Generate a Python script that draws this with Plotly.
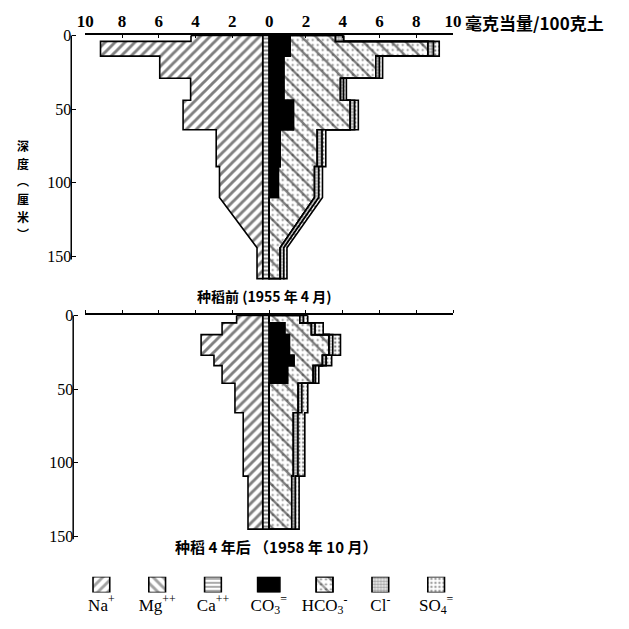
import plotly.graph_objects as go

# ---------------------------------------------------------------------------
# Soil salt profiles, milli-equivalents per 100 g soil, by depth (cm)
# cations plotted to the left of zero, anions to the right
# ---------------------------------------------------------------------------
ions = ["Na", "Mg", "Ca", "CO3", "HCO3", "Cl", "SO4"]
ion_labels = ["Na<sup>+</sup>", "Mg<sup>++</sup>", "Ca<sup>++</sup>",
              "CO<sub>3</sub><sup>=</sup>", "HCO<sub>3</sub><sup>-</sup>",
              "Cl<sup>-</sup>", "SO<sub>4</sub><sup>=</sup>"]

# Before rice (April 1955); layer 110-144 narrows gradually into the last one
pre_top = [0, 4, 14, 29, 44, 64, 89, 110, 144]
pre_bot = [4, 14, 29, 44, 64, 89, 110, 144, 165]
pre_slant = [0, 0, 0, 0, 0, 0, 0, 1, 0]
pre_na = [3.90, 8.82, 5.60, 3.92, 4.33, 2.53, 2.35, 2.35, 0.31]
pre_mg = [0, 0, 0, 0, 0, 0, 0, 0, 0]
pre_ca = [0.35, 0.35, 0.35, 0.35, 0.35, 0.35, 0.35, 0.35, 0.35]
pre_co3 = [1.14, 1.14, 0.80, 0.80, 1.32, 0.60, 0.50, 0.00, 0.00]
pre_hco3 = [2.47, 7.50, 5.00, 3.08, 3.09, 2.02, 1.97, 2.47, 0.60]
pre_cl = [0.44, 0.30, 0.20, 0.17, 0.24, 0.26, 0.23, 0.23, 0.20]
pre_so4 = [0.00, 0.31, 0.17, 0.15, 0.20, 0.20, 0.20, 0.20, 0.17]

# After four years of rice (October 1958)
post_top = [0, 5, 13, 27, 34, 46, 66, 109]
post_bot = [5, 13, 27, 34, 46, 66, 109, 145]
post_slant = [0, 0, 0, 0, 0, 0, 0, 0]
post_na = [1.42, 2.21, 3.35, 2.65, 2.21, 1.51, 1.06, 0.80]
post_mg = [0, 0, 0, 0, 0, 0, 0, 0]
post_ca = [0.35, 0.35, 0.35, 0.35, 0.35, 0.35, 0.35, 0.35]
post_co3 = [0.00, 0.85, 1.10, 1.35, 1.00, 0.00, 0.00, 0.00]
post_hco3 = [1.67, 1.45, 2.16, 1.55, 1.40, 1.58, 1.32, 1.23]
post_cl = [0.20, 0.20, 0.20, 0.20, 0.12, 0.20, 0.25, 0.20]
post_so4 = [0.23, 0.44, 0.42, 0.30, 0.18, 0.32, 0.37, 0.20]

x_ticks = [-10, -8, -6, -4, -2, 0, 2, 4, 6, 8, 10]
x_ticktext = ["10", "8", "6", "4", "2", "0", "2", "4", "6", "8", "10"]
depth_ticks = [0, 50, 100, 150]

# vertical axis title, one character per line
depth_title = ["深", "度", "︵", "厘", "米", "︶"]
depth_title_y = [143, 161, 179, 197, 215, 233]

# fill styles (hatching) per ion
STYLE = {
    "Na": dict(shape="/", size=7, solidity=0.42),
    "Mg": dict(shape="\\", size=7, solidity=0.42),
    "Ca": dict(shape="-", size=4, solidity=0.45),
    "CO3": None,                                   # solid black
    "HCO3": dict(shape="\\", size=10, solidity=0.24),
    "Cl": dict(shape=".", size=3, solidity=0.6),
    "SO4": dict(shape=".", size=4, solidity=0.3),
}
DOTS = dict(shape=".", size=5, solidity=0.14)      # extra dots on HCO3

SERIF = "Liberation Serif"
CJK = "Noto Sans CJK SC"
LW = 1.6


def boundary(tops, bots, cum, slant, sign):
    """Path of one cumulative boundary down the profile."""
    xs, ys = [], []
    for t, b, c, s in zip(tops, bots, cum, slant):
        xs.append(sign * c)
        ys.append(t)
        if not s:
            xs.append(sign * c)
            ys.append(b)
    return xs, ys


def band_traces(tops, bots, slant, layers, names, sign, xa, ya):
    traces = []
    inner = [0.0] * len(tops)
    for name, vals in zip(names, layers):
        outer = [a + v for a, v in zip(inner, vals)]
        if max(vals) > 0:
            ox, oy = boundary(tops, bots, outer, slant, sign)
            ix, iy = boundary(tops, bots, inner, slant, sign)
            px = ox + ix[::-1] + [ox[0]]
            py = oy + iy[::-1] + [oy[0]]
            st = STYLE[name]
            if st is None:
                traces.append(go.Scatter(
                    x=px, y=py, mode="lines", fill="toself", fillcolor="black",
                    line=dict(color="black", width=LW), xaxis=xa, yaxis=ya,
                    hoverinfo="skip", showlegend=False))
            else:
                traces.append(go.Scatter(
                    x=px, y=py, mode="lines", fill="toself", fillcolor="white",
                    fillpattern=dict(fgcolor="black", bgcolor="white", **st),
                    line=dict(color="black", width=LW), xaxis=xa, yaxis=ya,
                    hoverinfo="skip", showlegend=False))
                if name == "HCO3":
                    traces.append(go.Scatter(
                        x=px, y=py, mode="lines", fill="toself",
                        fillcolor="rgba(0,0,0,0)",
                        fillpattern=dict(fgcolor="black", bgcolor="rgba(0,0,0,0)",
                                         fillmode="overlay", **DOTS),
                        line=dict(color="black", width=LW), xaxis=xa, yaxis=ya,
                        hoverinfo="skip", showlegend=False))
        inner = outer
    return traces


fig = go.Figure()

for t in band_traces(pre_top, pre_bot, pre_slant, [pre_ca, pre_mg, pre_na],
                     ["Ca", "Mg", "Na"], -1, "x", "y"):
    fig.add_trace(t)
for t in band_traces(pre_top, pre_bot, pre_slant, [pre_co3, pre_hco3, pre_cl, pre_so4],
                     ["CO3", "HCO3", "Cl", "SO4"], 1, "x", "y"):
    fig.add_trace(t)
for t in band_traces(post_top, post_bot, post_slant, [post_ca, post_mg, post_na],
                     ["Ca", "Mg", "Na"], -1, "x2", "y2"):
    fig.add_trace(t)
for t in band_traces(post_top, post_bot, post_slant, [post_co3, post_hco3, post_cl, post_so4],
                     ["CO3", "HCO3", "Cl", "SO4"], 1, "x2", "y2"):
    fig.add_trace(t)

# key: one swatch per ion, labels underneath
key_shapes = [STYLE[n]["shape"] if STYLE[n] else "" for n in ions]
key_sizes = [STYLE[n]["size"] if STYLE[n] else 8 for n in ions]
key_sol = [STYLE[n]["solidity"] if STYLE[n] else 0.3 for n in ions]
key_bg = ["black" if STYLE[n] is None else "white" for n in ions]
key_w = [0.4 if STYLE[n] is None else 0.3 for n in ions]
fig.add_trace(go.Bar(
    x=ion_labels, y=[1] * len(ions), width=key_w, xaxis="x3", yaxis="y3",
    marker=dict(color=key_bg, line=dict(color="black", width=LW),
                pattern=dict(shape=key_shapes, size=key_sizes, solidity=key_sol,
                             fgcolor="black", bgcolor=key_bg)),
    hoverinfo="skip", showlegend=False))
fig.add_trace(go.Bar(
    x=[ion_labels[4]], y=[1], width=0.3, xaxis="x3", yaxis="y3",
    marker=dict(color="rgba(0,0,0,0)", line=dict(color="black", width=LW),
                pattern=dict(fgcolor="black", bgcolor="rgba(0,0,0,0)",
                             fillmode="overlay", **DOTS)),
    hoverinfo="skip", showlegend=False))

XDOM = [79.4 / 629, 457.4 / 629]
axis_common = dict(showgrid=False, zeroline=False)

annotations = [
    dict(text="毫克当量/100克土", xref="paper", yref="paper", x=468 / 629,
         y=1 - 18 / 629, xanchor="left", yanchor="middle", showarrow=False,
         font=dict(family=CJK, size=17, color="black", weight="bold")),
    dict(text="种稻前 (1955 年 4 月)", xref="paper", yref="paper", x=264 / 629,
         y=1 - 296 / 629, xanchor="center", yanchor="middle", showarrow=False,
         font=dict(family=CJK, size=14, color="black", weight="bold")),
    dict(text="种稻 4 年后 （1958 年 10 月）", xref="paper", yref="paper",
         x=275 / 629, y=1 - 551 / 629, xanchor="center", yanchor="middle",
         showarrow=False, font=dict(family=CJK, size=15, color="black", weight="bold")),
]
for ch, yy in zip(depth_title, depth_title_y):
    annotations.append(dict(text=ch, xref="paper", yref="paper", x=15 / 629,
                            y=1 - yy / 629, xanchor="center", yanchor="middle",
                            showarrow=False,
                            font=dict(family=CJK, size=12, color="black", weight="bold")))

fig.update_layout(
    width=629, height=629, margin=dict(l=0, r=0, t=0, b=0),
    paper_bgcolor="white", plot_bgcolor="rgba(0,0,0,0)",
    barmode="overlay", showlegend=False,
    xaxis=dict(domain=XDOM, range=[-10, 10], side="top", anchor="free",
               position=1 - 30 / 629, showline=True, linecolor="black", linewidth=2,
               ticks="inside", ticklen=3, tickcolor="black",
               tickvals=x_ticks, ticktext=x_ticktext,
               tickfont=dict(family=SERIF, size=17, color="black", weight="bold"),
               **axis_common),
    yaxis=dict(domain=[1 - 281.5 / 629, 1 - 28 / 629], range=[167, -2],
               anchor="free", position=65 / 629, showline=False,
               ticks="inside", ticklen=4, tickcolor="black", tickvals=depth_ticks,
               tickfont=dict(family=SERIF, size=16, color="black"), **axis_common),
    xaxis2=dict(domain=XDOM, range=[-10, 10], side="top", anchor="free",
                position=1 - 315 / 629, showline=True, linecolor="black", linewidth=2,
                ticks="outside", ticklen=3, tickcolor="black", tickvals=x_ticks,
                showticklabels=False, **axis_common),
    yaxis2=dict(domain=[1 - 544 / 629, 1 - 313 / 629], range=[152, -2],
                anchor="free", position=67 / 629, showline=False,
                ticks="inside", ticklen=4, tickcolor="black", tickvals=depth_ticks,
                tickfont=dict(family=SERIF, size=16, color="black"), **axis_common),
    xaxis3=dict(domain=[67.3 / 629, 468.7 / 629], anchor="y3", type="category",
                showline=False, ticks="", tickfont=dict(family=SERIF, size=17, color="black"),
                **axis_common),
    yaxis3=dict(domain=[1 - 598 / 629, 1 - 582 / 629], range=[0, 1], visible=False,
                **axis_common),
    shapes=[
        dict(type="line", xref="paper", yref="y", x0=65 / 629, x1=65 / 629,
             y0=0, y1=152, line=dict(color="black", width=1.5)),
        dict(type="line", xref="paper", yref="y2", x0=67 / 629, x1=67 / 629,
             y0=0, y1=152, line=dict(color="black", width=1.5)),
    ],
    annotations=annotations,
)

fig.write_html("out.html")
